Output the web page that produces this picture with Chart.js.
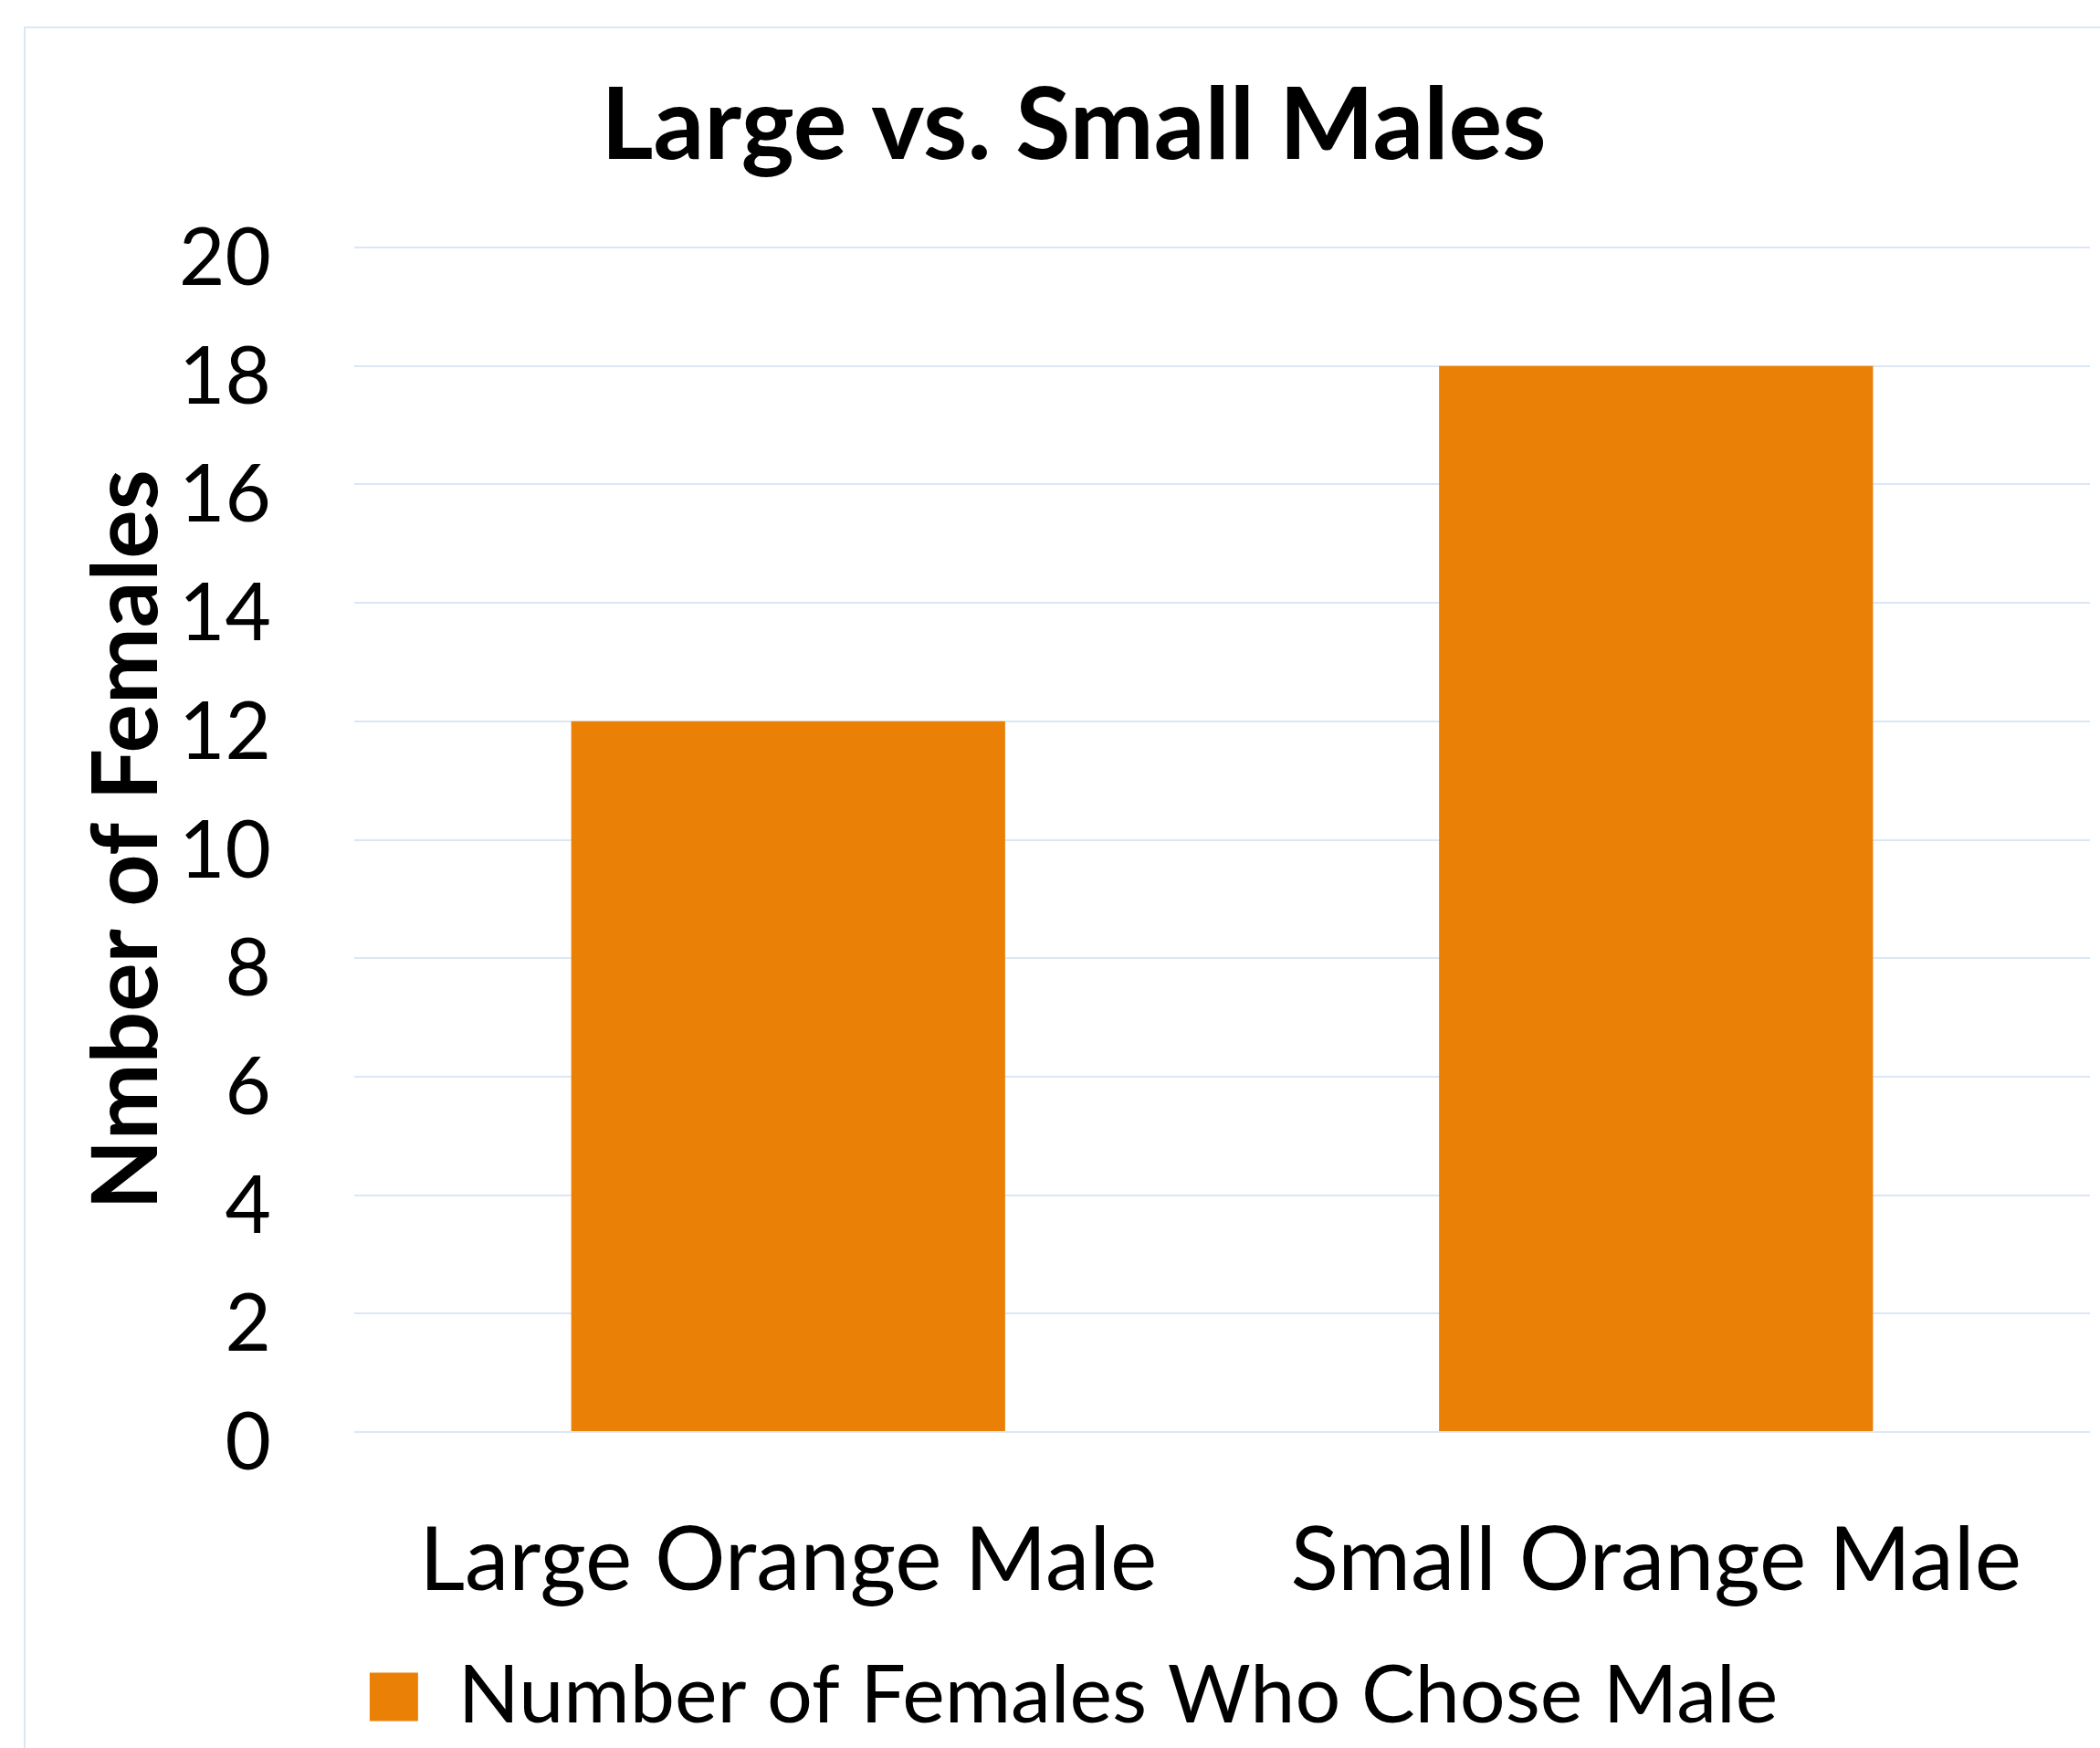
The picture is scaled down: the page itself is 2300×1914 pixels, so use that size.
<!DOCTYPE html>
<html>
<head>
<meta charset="utf-8">
<title>Large vs. Small Males</title>
<script src="https://cdn.jsdelivr.net/npm/chart.js@4.4.0/dist/chart.umd.min.js"></script>
<style>
    html, body { margin: 0; padding: 0; background: #fff; }
    #wrap { position: relative; width: 2300px; height: 1914px; overflow: hidden; }
    /* thin frame of the original chart box, cut off at right and bottom */
    #frame { position: absolute; left: 26px; top: 29px; width: 2400px; height: 2000px; border: 2px solid #dce7f5; }
    #myChart { position: absolute; left: 0; top: 0; }
</style>
</head>
<body>
<div id="wrap">
    <div id="frame"></div>
    <canvas id="myChart" width="2300" height="1914"></canvas>
</div>
<script>
// data
const categories = ['Large Orange Male', 'Small Orange Male'];
const femaleCounts = [12, 18];
const seriesLabel = 'Number of Females Who Chose Male';
const yTickLabels = ['0', '2', '4', '6', '8', '10', '12', '14', '16', '18', '20'];

const orange = '#ea8006';
const gridBlue = '#dce7f5';
const fontName = 'Lato';

const ctx = document.getElementById('myChart');

new Chart(ctx, {
    type: 'bar',
    data: {
        labels: categories,
        datasets: [{
            label: seriesLabel,
            data: femaleCounts,
            backgroundColor: orange,
            borderWidth: 0,
            barPercentage: 0.5,
            categoryPercentage: 1.0
        }]
    },
    options: {
        responsive: false,
        animation: false,
        devicePixelRatio: 1,
        layout: {
            padding: { left: 63, right: 11, top: 0, bottom: 2 }
        },
        plugins: {
            tooltip: { enabled: false },
            title: {
                display: true,
                text: 'Large vs. Small Males',
                color: '#000',
                font: { family: fontName, size: 110, weight: 'bold' },
                padding: { top: 73, bottom: 66 }
            },
            legend: {
                display: true,
                position: 'bottom',
                labels: {
                    color: '#000',
                    font: { family: fontName, size: 88 },
                    boxWidth: 53,
                    boxHeight: 53,
                    padding: 14
                }
            }
        },
        scales: {
            x: {
                grid: { display: false },
                border: { display: false },
                ticks: {
                    color: '#000',
                    font: { family: fontName, size: 97 },
                    padding: 76,
                    maxRotation: 0
                },
                afterFit: function (scale) {
                    scale.height = 232;
                }
            },
            y: {
                min: 0,
                max: 20,
                ticks: {
                    stepSize: 2,
                    color: '#000',
                    font: { family: fontName, size: 87 },
                    padding: 91,
                    labelOffset: 13,
                    callback: function (value, index) {
                        return yTickLabels[index];
                    }
                },
                grid: { color: gridBlue, lineWidth: 2, drawTicks: false },
                border: { display: false },
                title: {
                    display: true,
                    text: 'Nmber of Females',
                    color: '#000',
                    font: { family: fontName, size: 100, weight: 'bold' },
                    padding: { top: 17, bottom: 0 }
                },
                afterFit: function (scale) {
                    scale.width = 325;
                }
            }
        }
    }
});
</script>
</body>
</html>
